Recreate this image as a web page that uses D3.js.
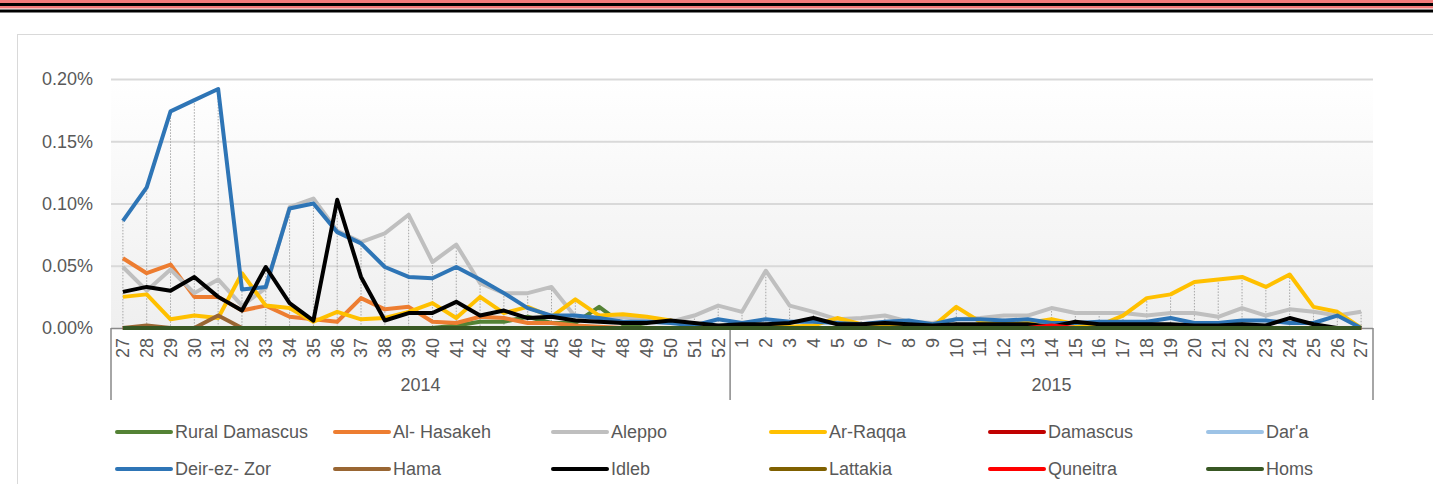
<!DOCTYPE html>
<html>
<head>
<meta charset="utf-8">
<script src="https://cdn.jsdelivr.net/npm/d3@7"></script>
<style>
  body { margin: 0; background: #fff; }
  svg { display: block; font-family: "Liberation Sans", Arial, sans-serif; }
</style>
</head>
<body>
<svg id="chart" width="1433" height="484"></svg>
<script>
// weeks on the x axis
var weeks2014 = [27,28,29,30,31,32,33,34,35,36,37,38,39,40,41,42,43,44,45,46,47,48,49,50,51,52];
var weeks2015 = [1,2,3,4,5,6,7,8,9,10,11,12,13,14,15,16,17,18,19,20,21,22,23,24,25,26,27];
var yTicks = [0, 0.0005, 0.001, 0.0015, 0.002];

// values in %
var ruralDamascus = [0,0,0,0,0,0,0,0,0,0,0,0,0,0,0.002,0.005,0.005,0.009,0.004,0.004,0.017,0.003,0,0,0,0,
  0,0,0,0,0,0,0,0,0,0,0,0,0,0,0,0,0,0,0,0,0,0,0,0,0,0,0];
var alHasakeh = [0.056,0.044,0.051,0.025,0.025,0.014,0.018,0.009,0.007,0.005,0.024,0.015,0.017,0.005,0.004,0.009,0.008,0.004,0.004,0.002,0.001,0,0,0,0,0,
  0,0,0,0,0,0,0,0,0,0,0,0,0,0,0,0,0,0,0,0,0,0,0,0,0,0,0];
var aleppo = [0.049,0.030,0.047,0.028,0.039,0.018,0.032,0.097,0.104,0.078,0.069,0.076,0.091,0.053,0.067,0.036,0.028,0.028,0.033,0.009,0.008,0.009,0.006,0.005,0.010,0.018,
  0.013,0.046,0.018,0.013,0.007,0.008,0.010,0.005,0.004,0.007,0.008,0.010,0.010,0.016,0.012,0.012,0.012,0.010,0.012,0.012,0.009,0.016,0.010,0.015,0.013,0.010,0.013];
var arRaqqa = [0.025,0.027,0.007,0.010,0.008,0.044,0.018,0.016,0.005,0.013,0.007,0.008,0.013,0.020,0.008,0.025,0.012,0.017,0.009,0.023,0.010,0.011,0.009,0.006,0.002,0.001,
  0.001,0.001,0.001,0.002,0.008,0.003,0.002,0.002,0.001,0.017,0.005,0.004,0.004,0.007,0.003,0.002,0.010,0.024,0.027,0.037,0.039,0.041,0.033,0.043,0.017,0.013,0];
var damascus = [0,0,0,0,0,0,0,0,0,0,0,0,0,0,0,0,0,0,0,0,0,0,0,0,0,0,
  0,0,0,0,0,0,0,0,0,0,0,0,0,0,0,0,0,0,0.002,0.003,0.001,0,0,0,0,0,0];
var dara = [0,0,0,0,0,0,0,0,0,0,0,0,0,0,0,0,0,0,0,0,0,0,0,0,0,0,
  0,0,0,0,0,0,0,0,0,0,0,0,0,0,0,0,0,0,0,0,0,0,0,0,0,0,0];
var deirEzZor = [0.086,0.113,0.174,0.183,0.192,0.031,0.033,0.096,0.100,0.077,0.068,0.049,0.041,0.040,0.049,0.039,0.028,0.016,0.010,0.010,0.008,0.005,0.005,0.004,0.002,0.007,
  0.004,0.007,0.005,0.005,0.004,0.003,0.005,0.006,0.003,0.007,0.007,0.006,0.007,0.004,0.004,0.005,0.005,0.005,0.008,0.004,0.004,0.006,0.006,0.004,0.004,0.010,0];
var hama = [0,0.002,0,0,0.010,0,0,0,0,0,0,0,0,0,0,0,0,0,0,0,0,0,0,0,0,0,
  0,0,0,0,0,0,0,0,0,0,0,0,0,0,0,0,0,0,0,0,0,0,0,0,0,0,0];
var idleb = [0.029,0.033,0.030,0.041,0.025,0.014,0.049,0.020,0.006,0.103,0.041,0.006,0.012,0.012,0.021,0.010,0.014,0.008,0.009,0.006,0.005,0.004,0.004,0.006,0.004,0.002,
  0.003,0.003,0.004,0.008,0.003,0.003,0.004,0.003,0.002,0.003,0.003,0.003,0.003,0.001,0.005,0.003,0.003,0.003,0.003,0.002,0.002,0.003,0.002,0.008,0.003,0,0];
var lattakia = [0,0,0,0,0,0,0,0,0,0,0,0,0,0,0,0,0,0,0,0,0,0,0,0,0,0,
  0,0,0,0,0,0,0,0,0,0,0,0,0,0,0,0,0,0,0,0,0,0,0,0,0,0,0];
var quneitra = [0,0,0,0,0,0,0,0,0,0,0,0,0,0,0,0,0,0,0,0,0,0,0,0,0,0,
  0,0,0,0,0,0,0,0,0,0,0,0,0,0.002,0,0,0,0,0,0,0,0,0,0,0,0,0];
var homs = [0,0,0,0,0,0,0,0,0,0,0,0,0,0,0,0,0,0,0,0,0,0,0,0,0,0,
  0,0,0,0,0,0,0,0,0,0,0,0,0,0,0,0,0,0,0,0,0,0,0,0,0,0,0];

var seriesNames = ["Rural Damascus","Al- Hasakeh","Aleppo","Ar-Raqqa","Damascus","Dar'a",
                   "Deir-ez- Zor","Hama","Idleb","Lattakia","Quneitra","Homs"];
var seriesColors = ["#548235","#ed7d31","#bfbfbf","#ffc000","#c00000","#9dc3e6",
                    "#2e75b6","#996633","#000000","#7f6000","#ff0000","#385723"];
var seriesValues = [ruralDamascus, alHasakeh, aleppo, arRaqqa, damascus, dara,
                    deirEzZor, hama, idleb, lattakia, quneitra, homs];

// categories keyed by year so the repeated week numbers stay apart
var cats = weeks2014.map(function (w) { return "2014-" + w; })
  .concat(weeks2015.map(function (w) { return "2015-" + w; }));

var svg = d3.select("#chart");
var textColor = "#595959";

// stripes on top
var stripes = [[0, 3, "#f47b7b"], [3, 3, "#000"], [6, 2.5, "#f47b7b"], [9.5, 3, "#000"]];
svg.selectAll(".stripe").data(stripes).enter().append("rect")
  .attr("x", 0).attr("width", 1433)
  .attr("y", function (d) { return d[0]; })
  .attr("height", function (d) { return d[1]; })
  .attr("fill", function (d) { return d[2]; });

// chart frame
svg.append("rect")
  .attr("x", 17.5).attr("y", 34.5).attr("width", 1500).attr("height", 500)
  .attr("fill", "none").attr("stroke", "#d9d9d9");

var plotLeft = 111, plotRight = 1373, plotTop = 79, plotBottom = 328;

var x = d3.scaleBand().domain(cats).range([plotLeft, plotRight]);
var y = d3.scaleLinear().domain([0, 0.002]).range([plotBottom, plotTop]);

// plot background gradient
var grad = svg.append("defs").append("linearGradient")
  .attr("id", "bg").attr("x1", 0).attr("y1", 0).attr("x2", 0).attr("y2", 1);
grad.append("stop").attr("offset", "0%").attr("stop-color", "#ffffff");
grad.append("stop").attr("offset", "100%").attr("stop-color", "#efefef");
svg.append("rect")
  .attr("x", plotLeft).attr("y", plotTop)
  .attr("width", plotRight - plotLeft).attr("height", plotBottom - plotTop)
  .attr("fill", "url(#bg)");

// gridlines + y labels
var yAxis = d3.axisLeft(y).tickValues(yTicks)
  .tickSize(-(plotRight - plotLeft))
  .tickFormat(d3.format(".2%"));
var gy = svg.append("g").attr("transform", "translate(" + plotLeft + ",0)").call(yAxis);
gy.select(".domain").remove();
gy.selectAll(".tick line").attr("stroke", "#d9d9d9").attr("stroke-width", 2)
  .filter(function (d) { return d === 0; }).remove();
gy.selectAll(".tick text")
  .attr("x", -18).attr("fill", textColor)
  .style("font-size", "18px").style("font-family", "Liberation Sans, Arial, sans-serif");

// drop lines from the highest point of each week
var maxes = cats.map(function (c, i) {
  return d3.max(seriesValues, function (s) { return s[i]; });
});
svg.append("g").selectAll("line").data(cats).enter().append("line")
  .attr("x1", function (d) { return x(d) + x.bandwidth() / 2; })
  .attr("x2", function (d) { return x(d) + x.bandwidth() / 2; })
  .attr("y1", function (d, i) { return y(maxes[i] / 100); })
  .attr("y2", y(0))
  .attr("stroke", "#a6a6a6").attr("stroke-width", 1)
  .attr("stroke-dasharray", "1.5,1.5");

// x axis line and year boxes
svg.append("line").attr("x1", plotLeft).attr("x2", plotRight)
  .attr("y1", plotBottom + 0.5).attr("y2", plotBottom + 0.5)
  .attr("stroke", "#898989").attr("stroke-width", 1.5);
var sepX = [plotLeft, x("2015-1"), plotRight];
svg.selectAll(".sep").data(sepX).enter().append("line")
  .attr("x1", function (d) { return d; }).attr("x2", function (d) { return d; })
  .attr("y1", plotBottom).attr("y2", 400)
  .attr("stroke", "#898989").attr("stroke-width", 1.5);

// week labels, rotated
svg.append("g").selectAll("text").data(cats).enter().append("text")
  .attr("transform", function (d) {
    return "translate(" + (x(d) + x.bandwidth() / 2) + ",338) rotate(-90)";
  })
  .attr("text-anchor", "end").attr("dy", "0.35em")
  .attr("fill", textColor).style("font-size", "18px")
  .text(function (d) { return d.split("-")[1]; });

// year labels
var years = [["2014", (sepX[0] + sepX[1]) / 2], ["2015", (sepX[1] + sepX[2]) / 2]];
svg.selectAll(".year").data(years).enter().append("text")
  .attr("x", function (d) { return d[1]; }).attr("y", 391)
  .attr("text-anchor", "middle").attr("fill", textColor)
  .style("font-size", "18px")
  .text(function (d) { return d[0]; });

// series lines
var line = d3.line()
  .x(function (d, i) { return x(cats[i]) + x.bandwidth() / 2; })
  .y(function (d) { return y(d / 100); });
svg.append("g").selectAll("path").data(seriesValues).enter().append("path")
  .attr("d", line)
  .attr("fill", "none")
  .attr("stroke", function (d, i) { return seriesColors[i]; })
  .attr("stroke-width", 4)
  .attr("stroke-linejoin", "round");

// legend
var legendX = [115, 333, 551, 769, 988, 1206];
var legendY = [432, 469];
var leg = svg.append("g").selectAll("g").data(seriesNames).enter().append("g")
  .attr("transform", function (d, i) {
    return "translate(" + legendX[i % 6] + "," + legendY[Math.floor(i / 6)] + ")";
  });
leg.append("line").attr("x1", 2).attr("x2", 56).attr("y1", 0).attr("y2", 0)
  .attr("stroke", function (d, i) { return seriesColors[i]; })
  .attr("stroke-width", 4).attr("stroke-linecap", "round");
leg.append("text").attr("x", 60).attr("dy", "0.35em")
  .attr("fill", textColor).style("font-size", "18px")
  .text(function (d) { return d; });
</script>
</body>
</html>
